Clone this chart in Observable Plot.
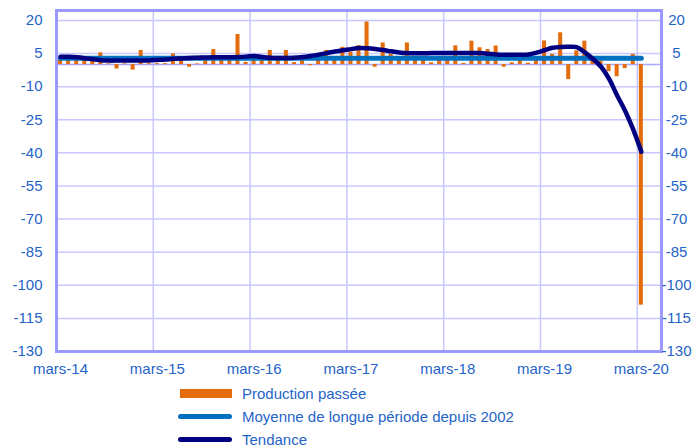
<!DOCTYPE html>
<html><head><meta charset="utf-8">
<script src="https://cdn.jsdelivr.net/npm/d3@7"></script>
<script src="https://cdn.jsdelivr.net/npm/@observablehq/plot@0.6"></script>
<style>
body{margin:0;background:#fff;font-family:"Liberation Sans",Arial,sans-serif;}
#wrap{position:relative;width:697px;height:448px;overflow:hidden;}
#legend{position:absolute;left:0;top:382px;width:697px;height:66px;}
.item{position:absolute;left:178px;height:20px;display:flex;align-items:center;font-size:15px;color:#1f64c8;white-space:nowrap;}
.sw{width:54px;margin-right:10px;}
</style></head><body>
<div id="wrap"><div id="chart"></div><div id="legend"></div></div>
<script>
// Production passée (monthly, mars-14 .. mars-20)
const production = [
  2.5, 2.5, 2.5, 2.5, 1.5, 5.3, 0.3, -2.0, 0.3, -2.5, 6.4, 0.4,
  0.4, 0.4, 4.8, 2.5, -1.2, 0.3, 2.5, 6.8, 2.5, 2.5, 13.6, 1.0,
  2.5, 2.5, 6.4, 2.5, 6.4, 0.9, 2.5, -0.5, 2.5, 6.4, 2.5, 7.8,
  5.6, 8.6, 19.3, -1.2, 9.8, 4.6, 2.5, 9.8, 2.5, 2.5, 0.8, 2.5,
  2.5, 8.5, 0.5, 10.6, 7.6, 6.8, 8.4, -1.2, 0.8, 2.5, 0.6, 2.5,
  10.7, 4.6, 14.4, -6.8, 6.2, 10.6, 2.0, 1.5, -3.2, -5.5, -1.8, 4.6,
  -109
];
// Tendance
const tendance = [
  3.6, 3.5, 3.3, 2.9, 2.4, 2.0, 1.8, 1.8, 1.8, 1.8, 1.8, 1.9,
  2.1, 2.3, 2.6, 2.8, 3.0, 3.1, 3.2, 3.3, 3.3, 3.3, 3.4, 3.6,
  3.9, 3.4, 3.1, 3.0, 3.0, 3.1, 3.4, 3.9, 4.5, 5.2, 5.9, 6.5,
  7.0, 7.5, 7.4, 7.1, 6.6, 6.0, 5.5, 5.2, 5.1, 5.1, 5.2, 5.2,
  5.2, 5.2, 5.2, 5.2, 5.2, 4.9, 4.6, 4.5, 4.5, 4.5, 4.6, 5.4,
  6.5, 7.6, 8.0, 8.1, 7.9, 5.5, 2.5, -1.0, -6.5, -14.0, -21.0, -29.5,
  -39.5
];
// Moyenne de longue période depuis 2002
const moyenne = 2.9;

const tickLabels = ["mars-14","mars-15","mars-16","mars-17","mars-18","mars-19","mars-20"];
const tickIndex = [0, 12, 24, 36, 48, 60, 72];
const yTicks = [20, 5, -10, -25, -40, -55, -70, -85, -100, -115, -130];
const gridX = [11.5, 23.5, 35.5, 47.5, 59.5, 71.5];

const bars = production.map((v, i) => ({i, v}));
const trend = tendance.map((v, i) => ({i, v}));
const avg = [{i: 0, v: moyenne}, {i: production.length - 1, v: moyenne}];

const txt = "#1f64c8";
const yFmt = d => String(d);
const chart = Plot.plot({
  width: 697, height: 382,
  marginLeft: 56, marginRight: 36, marginTop: 10, marginBottom: 31,
  x: {type: "linear", domain: [-0.5, 74.5]},
  y: {domain: [-130, 24.5]},
  style: {fontFamily: "'Liberation Sans', Arial, sans-serif", fontSize: "15px", color: txt, background: "#fff", overflow: "visible"},
  marks: [
    Plot.ruleY(yTicks, {stroke: "#c8c8ff", strokeWidth: 1.5}),
    Plot.ruleX(gridX, {stroke: "#c8c8ff", strokeWidth: 1.5}),
    Plot.ruleY([0], {stroke: "#a8a8ff", strokeWidth: 1.5}),
    Plot.rectY(bars, {x1: d => d.i - 0.25, x2: d => d.i + 0.25, y1: 0, y2: "v", fill: "#e46c0a"}),
    Plot.lineY(avg, {x: "i", y: "v", stroke: "#0070c0", strokeWidth: 5, strokeLinecap: "round"}),
    Plot.lineY(trend, {x: "i", y: "v", stroke: "#000080", strokeWidth: 4.5, curve: "catmull-rom", strokeLinecap: "round"}),
    Plot.frame({stroke: "#9999ff", strokeWidth: 3}),
    Plot.axisY(yTicks, {anchor: "left", tickSize: 0, tickPadding: 14, label: null, fill: txt, tickFormat: yFmt}),
    Plot.axisY(yTicks, {anchor: "right", tickSize: 0, tickPadding: 15, textAnchor: "middle", label: null, fill: txt, tickFormat: yFmt}),
    Plot.axisX(tickIndex, {anchor: "bottom", tickSize: 0, tickPadding: 12, label: null, fill: txt,
      tickFormat: d => tickLabels[tickIndex.indexOf(d)]})
  ]
});
document.getElementById("chart").appendChild(chart);

const legendItems = [
  {label: "Production passée", type: "rect", color: "#e46c0a", top: 1},
  {label: "Moyenne de longue période depuis 2002", type: "line", color: "#0070c0", top: 24},
  {label: "Tendance", type: "line", color: "#000080", top: 47}
];
const lg = document.getElementById("legend");
for (const it of legendItems) {
  const d = document.createElement("div");
  d.className = "item";
  d.style.top = it.top + "px";
  const s = document.createElement("div");
  s.className = "sw";
  if (it.type === "rect") { s.style.height = "9px"; s.style.background = it.color; s.style.marginLeft = "2px"; s.style.width = "52px"; }
  else { s.style.height = "5px"; s.style.borderRadius = "3px"; s.style.background = it.color; }
  d.appendChild(s);
  const t = document.createElement("span");
  t.textContent = it.label;
  d.appendChild(t);
  lg.appendChild(d);
}
</script>
</body></html>
